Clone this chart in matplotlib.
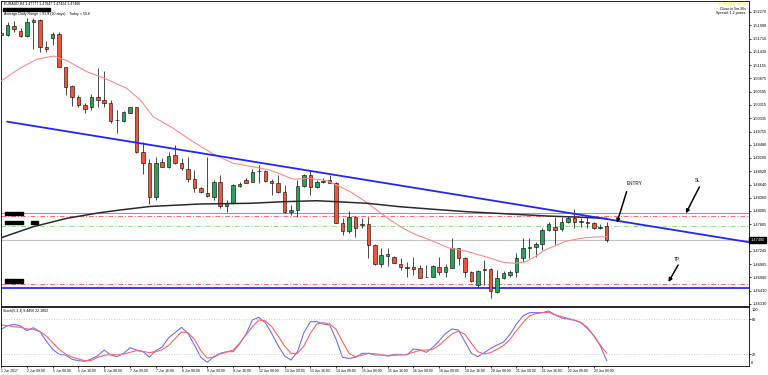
import matplotlib
matplotlib.use("Agg")
import matplotlib.pyplot as plt
import matplotlib.transforms as mtransforms
from matplotlib.patches import Rectangle
import numpy as np

plt.rcParams["font.family"] = ["Liberation Sans", "DejaVu Sans"]

# EURAUD H4 candles, 1 Jun 16:00 .. 23 Jun 08:00
opens = [1.51822, 1.51786, 1.51982, 1.51876, 1.51765, 1.52066, 1.52101, 1.51527, 1.51717, 1.51801,
         1.51107, 1.50713, 1.50476, 1.50308, 1.50266, 1.50488, 1.50419, 1.50360, 1.49998, 1.49984,
         1.50152, 1.50266, 1.49332, 1.49100, 1.48377, 1.49109, 1.49016, 1.49262, 1.49100, 1.48962,
         1.48749, 1.48562, 1.48469, 1.48371, 1.48699, 1.48190, 1.48253, 1.48615, 1.48735, 1.48699,
         1.48926, 1.48932, 1.48720, 1.48665, 1.48491, 1.48070, 1.48106, 1.48608, 1.48840, 1.48583,
         1.48686, 1.48735, 1.48678, 1.47824, 1.47670, 1.47952, 1.47809, 1.47809, 1.47370, 1.46970,
         1.47174, 1.47124, 1.46964, 1.46913, 1.46913, 1.46880, 1.46703, 1.46703, 1.46913, 1.46808,
         1.46892, 1.47300, 1.47103, 1.46808, 1.46528, 1.46859, 1.46859, 1.46388, 1.46669, 1.46739,
         1.46808, 1.47103, 1.47313, 1.47334, 1.47384, 1.47685, 1.47742, 1.47700, 1.47858, 1.47944,
         1.47845, 1.47858, 1.47837, 1.47721, 1.47777]
highs = [1.51849, 1.52066, 1.52087, 1.51927, 1.52137, 1.52137, 1.52122, 1.51666, 1.51843, 1.51843,
         1.51119, 1.50734, 1.50524, 1.50348, 1.50545, 1.51086, 1.51035, 1.50419, 1.50209, 1.50186,
         1.50278, 1.50278, 1.49542, 1.49172, 1.49218, 1.49193, 1.49332, 1.49473, 1.49193, 1.49225,
         1.48947, 1.48596, 1.49225, 1.48735, 1.48840, 1.48316, 1.48651, 1.48699, 1.48772, 1.48962,
         1.49052, 1.48947, 1.48749, 1.48840, 1.48629, 1.48211, 1.48735, 1.48863, 1.48932, 1.48735,
         1.48772, 1.48840, 1.48699, 1.47931, 1.48091, 1.47980, 1.47931, 1.47965, 1.47391, 1.47300,
         1.47300, 1.47138, 1.47090, 1.47018, 1.47124, 1.46949, 1.46949, 1.46949, 1.47111, 1.46964,
         1.47523, 1.47313, 1.47124, 1.46823, 1.46844, 1.47054, 1.46880, 1.46844, 1.46829, 1.46844,
         1.47195, 1.47511, 1.47511, 1.47439, 1.47721, 1.47858, 1.47965, 1.47965, 1.47986, 1.48127,
         1.47931, 1.47965, 1.47858, 1.47803, 1.47847]
lows = [1.51765, 1.51765, 1.51855, 1.51738, 1.51738, 1.51485, 1.51422, 1.51435, 1.51576, 1.51113,
        1.50524, 1.50293, 1.50278, 1.50152, 1.50209, 1.50266, 1.50266, 1.49929, 1.49731, 1.49963,
        1.50139, 1.49298, 1.48863, 1.48232, 1.48316, 1.49010, 1.48983, 1.49080, 1.48947, 1.48699,
        1.48491, 1.48469, 1.48371, 1.48316, 1.48148, 1.48064, 1.48232, 1.48596, 1.48665, 1.48690,
        1.48665, 1.48699, 1.48419, 1.48455, 1.48036, 1.48001, 1.47965, 1.48583, 1.48419, 1.48562,
        1.48665, 1.48665, 1.47824, 1.47580, 1.47628, 1.47532, 1.47721, 1.47090, 1.46949, 1.46901,
        1.46928, 1.46985, 1.46844, 1.46703, 1.46739, 1.46669, 1.46690, 1.46690, 1.46739, 1.46703,
        1.46880, 1.46949, 1.46703, 1.46598, 1.46493, 1.46528, 1.46261, 1.46354, 1.46648, 1.46697,
        1.46703, 1.47018, 1.47090, 1.47124, 1.47265, 1.47664, 1.47370, 1.47664, 1.47824, 1.47721,
        1.47755, 1.47733, 1.47700, 1.47700, 1.47424]
closes = [1.51780, 1.51996, 1.51906, 1.51765, 1.52066, 1.52101, 1.51527, 1.51498, 1.51807, 1.51119,
          1.50699, 1.50476, 1.50314, 1.50236, 1.50488, 1.50419, 1.50348, 1.49984, 1.49988, 1.50160,
          1.50266, 1.49332, 1.49100, 1.48385, 1.49094, 1.49016, 1.49248, 1.49088, 1.48983, 1.48749,
          1.48562, 1.48491, 1.48398, 1.48699, 1.48190, 1.48253, 1.48629, 1.48651, 1.48678, 1.48911,
          1.48920, 1.48720, 1.48665, 1.48491, 1.48070, 1.48106, 1.48608, 1.48840, 1.48583, 1.48699,
          1.48720, 1.48678, 1.47837, 1.47670, 1.47952, 1.47721, 1.47799, 1.47370, 1.46970, 1.47159,
          1.47138, 1.46997, 1.46901, 1.46892, 1.46865, 1.46682, 1.46697, 1.46928, 1.46808, 1.46913,
          1.47300, 1.47103, 1.46808, 1.46619, 1.46829, 1.46838, 1.46402, 1.46669, 1.46775, 1.46808,
          1.47103, 1.47313, 1.47334, 1.47384, 1.47685, 1.47803, 1.47685, 1.47858, 1.47944, 1.47858,
          1.47874, 1.47824, 1.47721, 1.47755, 1.47480]

# moving averages, sampled at bar positions
red_ma_bar = [0, 2.9, 5.5, 8.1, 10.2, 13.3, 16.4, 19.5, 21.6, 23.6, 26.7, 29.8, 32.9, 36.0, 39.1, 41.7,
              45.4, 47.9, 50.5, 52.1, 54.2, 56.2, 58.3, 60.4, 62.4, 64.5, 66.6, 69.4, 72.5, 75.9,
              78.0, 79.8, 81.4, 82.9, 84.4, 86.0, 87.5, 89.1, 90.7, 92.2, 94]
red_ma_val = [1.50819, 1.51086, 1.51275, 1.51344, 1.51246, 1.51014, 1.50854, 1.50665, 1.50419, 1.50068,
              1.49824, 1.49542, 1.49284, 1.49088, 1.49016, 1.48947, 1.48751, 1.48772, 1.48722, 1.48631,
              1.48491, 1.48316, 1.48106, 1.47895, 1.47721, 1.47580, 1.47475, 1.47313, 1.47229, 1.47096,
              1.47002, 1.46985, 1.47018, 1.47124, 1.47265, 1.47355, 1.47439, 1.47489, 1.47523, 1.47538,
              1.47544]
black_ma_bar = [0, 5.0, 10.2, 15.3, 18.5, 23.1, 30.9, 38.6, 43.8, 49.0, 52.1, 56.8, 61.9, 67.1, 72.3,
                77.5, 84.7, 89.9, 94]
black_ma_val = [1.47523, 1.47755, 1.47931, 1.48049, 1.48106, 1.48180, 1.48232, 1.48247, 1.48280, 1.48301,
                1.48280, 1.48247, 1.48175, 1.48121, 1.48070, 1.48032, 1.47980, 1.47954, 1.47927]

# trendline anchors and horizontal levels
trend_bar = [0.95, 116.2]
trend_val = [1.49963, 1.47427]
level_blue_thin = 1.48036
level_red_top = 1.47980
level_green = 1.47775
level_bid = 1.47480
level_red_bottom = 1.46543
level_blue_thick = 1.46459

# stochastic (5,3,3)
stoch_main = [62.9, 69.2, 71.5, 68.6, 60.6, 65.7, 58.9, 42.9, 28.6, 20.0, 18.9, 11.4, 9.1, 8.0, 12.0, 17.7,
              27.4, 18.9, 16.0, 21.7, 31.4, 27.4, 24.6, 15.4, 26.3, 32.6, 48.6, 57.2, 66.3, 56.0, 36.0, 14.8,
              6.3, 16.0, 21.7, 24.6, 24.6, 37.7, 54.3, 78.9, 83.5, 74.3, 56.0, 34.9, 17.1, 10.3, 24.6, 57.2,
              76.0, 76.0, 72.0, 70.3, 45.7, 14.8, 13.1, 14.8, 21.7, 21.7, 18.9, 18.9, 17.7, 20.0, 20.0, 18.9,
              29.1, 28.0, 23.4, 32.0, 43.4, 56.0, 63.5, 61.7, 41.7, 21.7, 16.0, 22.9, 30.3, 36.0, 41.2, 54.3,
              72.0, 85.8, 91.5, 91.5, 91.5, 94.3, 88.0, 82.3, 80.6, 78.3, 74.3, 64.6, 52.0, 34.9, 9.4456]
stoch_signal = [70.3, 69.2, 67.5, 66.3, 63.5, 62.9, 58.9, 51.4, 40.0, 28.6, 20.6, 15.4, 12.0, 9.1, 9.7, 14.8,
                18.3, 20.0, 19.4, 20.6, 23.4, 26.3, 25.1, 22.9, 24.6, 28.0, 35.4, 46.9, 58.3, 57.2, 45.7, 26.3,
                13.7, 14.8, 20.6, 24.0, 27.4, 38.9, 53.2, 67.5, 78.9, 77.7, 67.5, 51.4, 34.3, 21.7, 21.7, 34.3,
                56.0, 72.0, 74.3, 72.0, 62.9, 41.7, 21.7, 16.0, 18.3, 21.7, 21.1, 19.4, 17.1, 18.3, 18.9, 20.0,
                23.4, 26.9, 27.4, 28.6, 35.4, 45.7, 54.9, 60.0, 54.3, 38.9, 24.6, 20.6, 22.9, 28.6, 35.4, 45.7,
                60.6, 74.3, 85.8, 89.8, 91.5, 92.0, 87.5, 84.6, 81.8, 78.9, 74.9, 66.3, 52.0, 36.0, 22.1802]

price_ticks = [1.52270, 1.51990, 1.51710, 1.51430, 1.51155, 1.50875, 1.50595, 1.50315, 1.50035,
               1.49755, 1.49480, 1.49200, 1.48920, 1.48640, 1.48360, 1.48085, 1.47805,
               1.47245, 1.46965, 1.46690, 1.46410, 1.46130]
time_labels = ["1 Jun 2017", "2 Jun 08:00", "5 Jun 00:00", "5 Jun 16:00", "6 Jun 08:00", "7 Jun 00:00",
               "7 Jun 16:00", "8 Jun 08:00", "9 Jun 00:00", "9 Jun 16:00", "12 Jun 08:00", "13 Jun 00:00",
               "13 Jun 16:00", "14 Jun 08:00", "15 Jun 00:00", "15 Jun 16:00", "16 Jun 08:00",
               "19 Jun 00:00", "19 Jun 16:00", "20 Jun 08:00", "21 Jun 00:00", "21 Jun 16:00",
               "22 Jun 08:00", "23 Jun 00:00"]

W, H = 768, 375
def rect(l, t, r, b):
    return [l / W, 1 - b / H, (r - l) / W, (b - t) / H]

fig = plt.figure(figsize=(W / 100, H / 100), dpi=100)
ax = fig.add_axes(rect(1, 1, 749, 306))
ax2 = fig.add_axes(rect(1, 307, 749, 366))

xlo, xhi = -0.03, 116.1
n = len(opens)
x = np.arange(n)
o, h, l, c = map(np.array, (opens, highs, lows, closes))
up = c >= o

# candles
ax.vlines(x, l, h, color="black", lw=0.5, zorder=3)
body_lo = np.minimum(o, c)
body_h = np.maximum(np.abs(c - o), 0.00004)
ax.bar(x[up], body_h[up], bottom=body_lo[up], width=0.55, color="#27a35a",
       edgecolor="black", linewidth=0.4, zorder=4)
ax.bar(x[~up], body_h[~up], bottom=body_lo[~up], width=0.55, color="#f2543a",
       edgecolor="black", linewidth=0.4, zorder=4)

# horizontal levels
dashdot = (0, (5, 2, 1, 2))
ax.axhline(level_blue_thin, color="#8c8cff", lw=0.8, zorder=1)
ax.axhline(level_red_top, color="#ff6a6a", lw=0.7, ls=dashdot, zorder=1)
ax.axhline(level_green, color="#8fdc8f", lw=0.7, ls=dashdot, zorder=1)
ax.axhline(level_bid, color="#c4c4c4", lw=0.8, zorder=1)
ax.axhline(level_red_bottom, color="#ff6a6a", lw=0.7, ls=dashdot, zorder=1)
ax.axhline(level_blue_thick, color="#2a2aff", lw=1.3, zorder=1)

# MAs and trendline
ax.plot(red_ma_bar, red_ma_val, color="#ff8a8a", lw=0.8, zorder=5)
ax.plot(black_ma_bar, black_ma_val, color="#2b2b2b", lw=1.1, zorder=5)
ax.plot(trend_bar, trend_val, color="#2323ff", lw=1.3, zorder=6)

ax.set_xlim(xlo, xhi)
ax.set_ylim(1.46087, 1.52501)
ax.yaxis.tick_right()
ax.set_yticks(price_ticks)
ax.set_yticklabels([f"{p:.5f}" for p in price_ticks])
ax.tick_params(axis="y", labelsize=2.8, length=1.5, width=0.5, pad=0.8)
ax.set_xticks([])
for s in ax.spines.values():
    s.set_linewidth(0.6)

# current price box
ax.text(1.002, level_bid, "1.47480",
        transform=mtransforms.blended_transform_factory(ax.transAxes, ax.transData),
        color="white", fontsize=2.8, va="center", ha="left",
        bbox=dict(boxstyle="square,pad=0.3", fc="black", ec="black"))

# annotations
arrow = dict(arrowstyle="-|>", color="black", lw=1.1, mutation_scale=5, shrinkA=0, shrinkB=0)
ax.annotate("", xy=(95.6, 1.47839), xytext=(97.1, 1.48491), arrowprops=arrow, zorder=7)
ax.text(98.3, 1.48667, "ENTRY", fontsize=3.3, ha="center", va="center")
ax.annotate("", xy=(106.3, 1.48036), xytext=(108.4, 1.48590), arrowprops=arrow, zorder=7)
ax.text(108.2, 1.48716, "SL", fontsize=3.3, ha="center", va="center")
ax.annotate("", xy=(103.6, 1.46592), xytext=(105.1, 1.46949), arrowprops=arrow, zorder=7)
ax.text(104.9, 1.47069, "TP", fontsize=3.3, ha="center", va="center")

# stochastic panel
ax2.plot(x, stoch_main, color="#6f6fff", lw=0.8)
ax2.plot(x, stoch_signal, color="#ff6464", lw=0.8)
ax2.axhline(80, color="#bdbdbd", lw=0.6, ls=(0, (1, 2)))
ax2.axhline(20, color="#bdbdbd", lw=0.6, ls=(0, (1, 2)))
ax2.set_xlim(xlo, xhi)
ax2.set_ylim(0, 101.2)
ax2.yaxis.tick_right()
ax2.set_yticks([20, 80])
ax2.tick_params(axis="y", labelsize=2.8, length=1.5, width=0.5, pad=0.8)
bt = mtransforms.blended_transform_factory(ax2.transAxes, ax2.transData)
ax2.text(1.003, 95.5, "100", transform=bt, fontsize=2.8, va="center", ha="left")
ax2.text(1.003, 4.6, "0", transform=bt, fontsize=2.8, va="center", ha="left")
ax2.set_xticks(np.arange(0, 93, 4))
ax2.set_xticklabels(time_labels, ha="left")
ax2.tick_params(axis="x", labelsize=2.4, length=1.5, width=0.5, pad=0.8)
for s in ax2.spines.values():
    s.set_linewidth(0.6)
ax2.text(0.003, 0.93, "Stoch(5,3,3) 9.4456 22.1802", transform=ax2.transAxes, fontsize=2.5, va="center")

# header texts
fig.text(4 / W, 1 - 4 / H, "EURAUD,H4 1.47777 1.47847 1.47424 1.47480", fontsize=2.55, va="center")
fig.text(4 / W, 1 - 13.7 / H, "Average Daily Range = 91.8 (10 days)    Today = 50.6", fontsize=2.6, va="center")
fig.text(746 / W, 1 - 4 / H, "23.06.2017 08:54", fontsize=2.6, va="center", ha="right", color="#e8e800")
fig.text(746 / W, 1 - 8.5 / H, "Close in 5m 26s", fontsize=2.6, va="center", ha="right")
fig.text(746 / W, 1 - 13 / H, "Spread: 1.2 points.", fontsize=2.6, va="center", ha="right")

# redacted object labels
for (x0, y0, x1, y1) in [(3.3, 8, 50, 11.3), (5, 212, 23.3, 215), (5, 220.7, 23.3, 224),
                         (30.7, 220.7, 38.3, 224), (5, 279.3, 23.3, 282.7)]:
    fig.add_artist(Rectangle((x0 / W, 1 - y1 / H), (x1 - x0) / W, (y1 - y0) / H,
                             transform=fig.transFigure, color="black", zorder=10))

fig.savefig("out.png", dpi=100)
